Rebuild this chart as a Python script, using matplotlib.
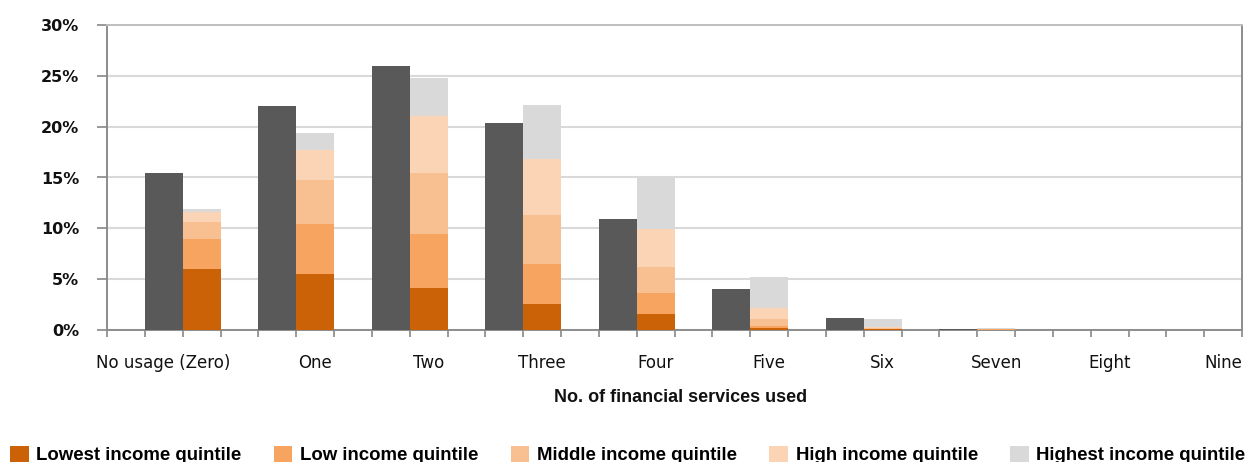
import numpy as np
import matplotlib
matplotlib.use('Agg')
import matplotlib.pyplot as plt
from matplotlib.patches import Patch

categories = ['No usage (Zero)', 'One', 'Two', 'Three', 'Four', 'Five', 'Six', 'Seven', 'Eight', 'Nine']

# 全体（濃いグレー）
total = [15.4, 22.1, 26.0, 20.4, 10.9, 4.0, 1.15, 0.05, 0.0, 0.0]

# 所得五分位別（積み上げ）
lowest = [5.94, 5.48, 4.07, 2.49, 1.50, 0.10, 0.02, 0.0, 0.0, 0.0]
low = [2.96, 4.96, 5.35, 3.97, 2.13, 0.20, 0.05, 0.01, 0.0, 0.0]
middle = [1.70, 4.31, 6.05, 4.84, 2.57, 0.75, 0.08, 0.01, 0.0, 0.0]
high = [1.00, 2.96, 5.60, 5.50, 3.72, 1.11, 0.10, 0.02, 0.0, 0.0]
highest = [0.32, 1.71, 3.72, 5.36, 5.10, 3.06, 0.79, 0.11, 0.0, 0.0]

quintile_labels = ['Lowest income quintile', 'Low income quintile', 'Middle income quintile',
                   'High income quintile', 'Highest income quintile']
quintile_colors = ['#CC6208', '#F6A45F', '#F8BF90', '#FBD4B5', '#D9D9D9']
total_color = '#595959'

fig = plt.figure(figsize=(12.48, 4.62), dpi=100)
ax = fig.add_axes([107 / 1248, 1 - 329.5 / 462, (1242 - 107) / 1248, (329.5 - 25.5) / 462])

n = len(categories)
x_total = np.arange(n) * 3 + 1.5
x_stack = np.arange(n) * 3 + 2.5

ax.bar(x_total, total, width=1.0, color=total_color, linewidth=0, zorder=3)

bottom = np.zeros(n)
for vals, col in zip([lowest, low, middle, high, highest], quintile_colors):
    ax.bar(x_stack, vals, width=1.0, bottom=bottom, color=col, linewidth=0, zorder=3)
    bottom += np.array(vals)

ax.set_xlim(0, 3 * n)
ax.set_ylim(0, 30)
ax.set_yticks(np.arange(0, 31, 5))
ax.set_yticklabels([f'{v}%' for v in range(0, 31, 5)], fontsize=11.5, fontweight='bold',
                   family='DejaVu Sans', color='#111111')
ax.yaxis.grid(True, color='#D9D9D9', linewidth=1.5, zorder=0)
ax.set_axisbelow(True)

# スロット境界の目盛り
ax.set_xticks(np.arange(0, 3 * n + 1))
ax.set_xticklabels([])
ax.tick_params(axis='x', length=5, width=1.2, color='#888888', direction='out')
ax.tick_params(axis='y', length=7, width=1.2, color='#888888', direction='out', pad=13)

for s in ['left', 'bottom', 'right']:
    ax.spines[s].set_color('#8C8C8C')
    ax.spines[s].set_linewidth(1.4)
ax.spines['top'].set_color('#BFBFBF')
ax.spines['top'].set_linewidth(1.4)

# カテゴリラベル
label_x = list(x_stack)
label_x[0] = 1.48
for lx, lab in zip(label_x, categories):
    ax.text(lx, -2.4, lab, ha='center', va='top', fontsize=12, family='DejaVu Sans',
            color='#111111')

fig.text(681 / 1248, 1 - 397 / 462, 'No. of financial services used', ha='center',
         va='center', fontsize=13, fontweight='bold', family='Liberation Sans', color='#111111')

handles = [Patch(facecolor=c, edgecolor='none') for c in quintile_colors]
fig.legend(handles, quintile_labels, loc='center left', bbox_to_anchor=(0.008, 1 - 455 / 462), ncol=5,
           frameon=False, handlelength=1.0, handleheight=1.0, handletextpad=0.4, columnspacing=1.75,
           borderpad=0, borderaxespad=0,
           prop={'family': 'Liberation Sans', 'weight': 'bold', 'size': 13.4})

fig.savefig('out.png', dpi=100)
